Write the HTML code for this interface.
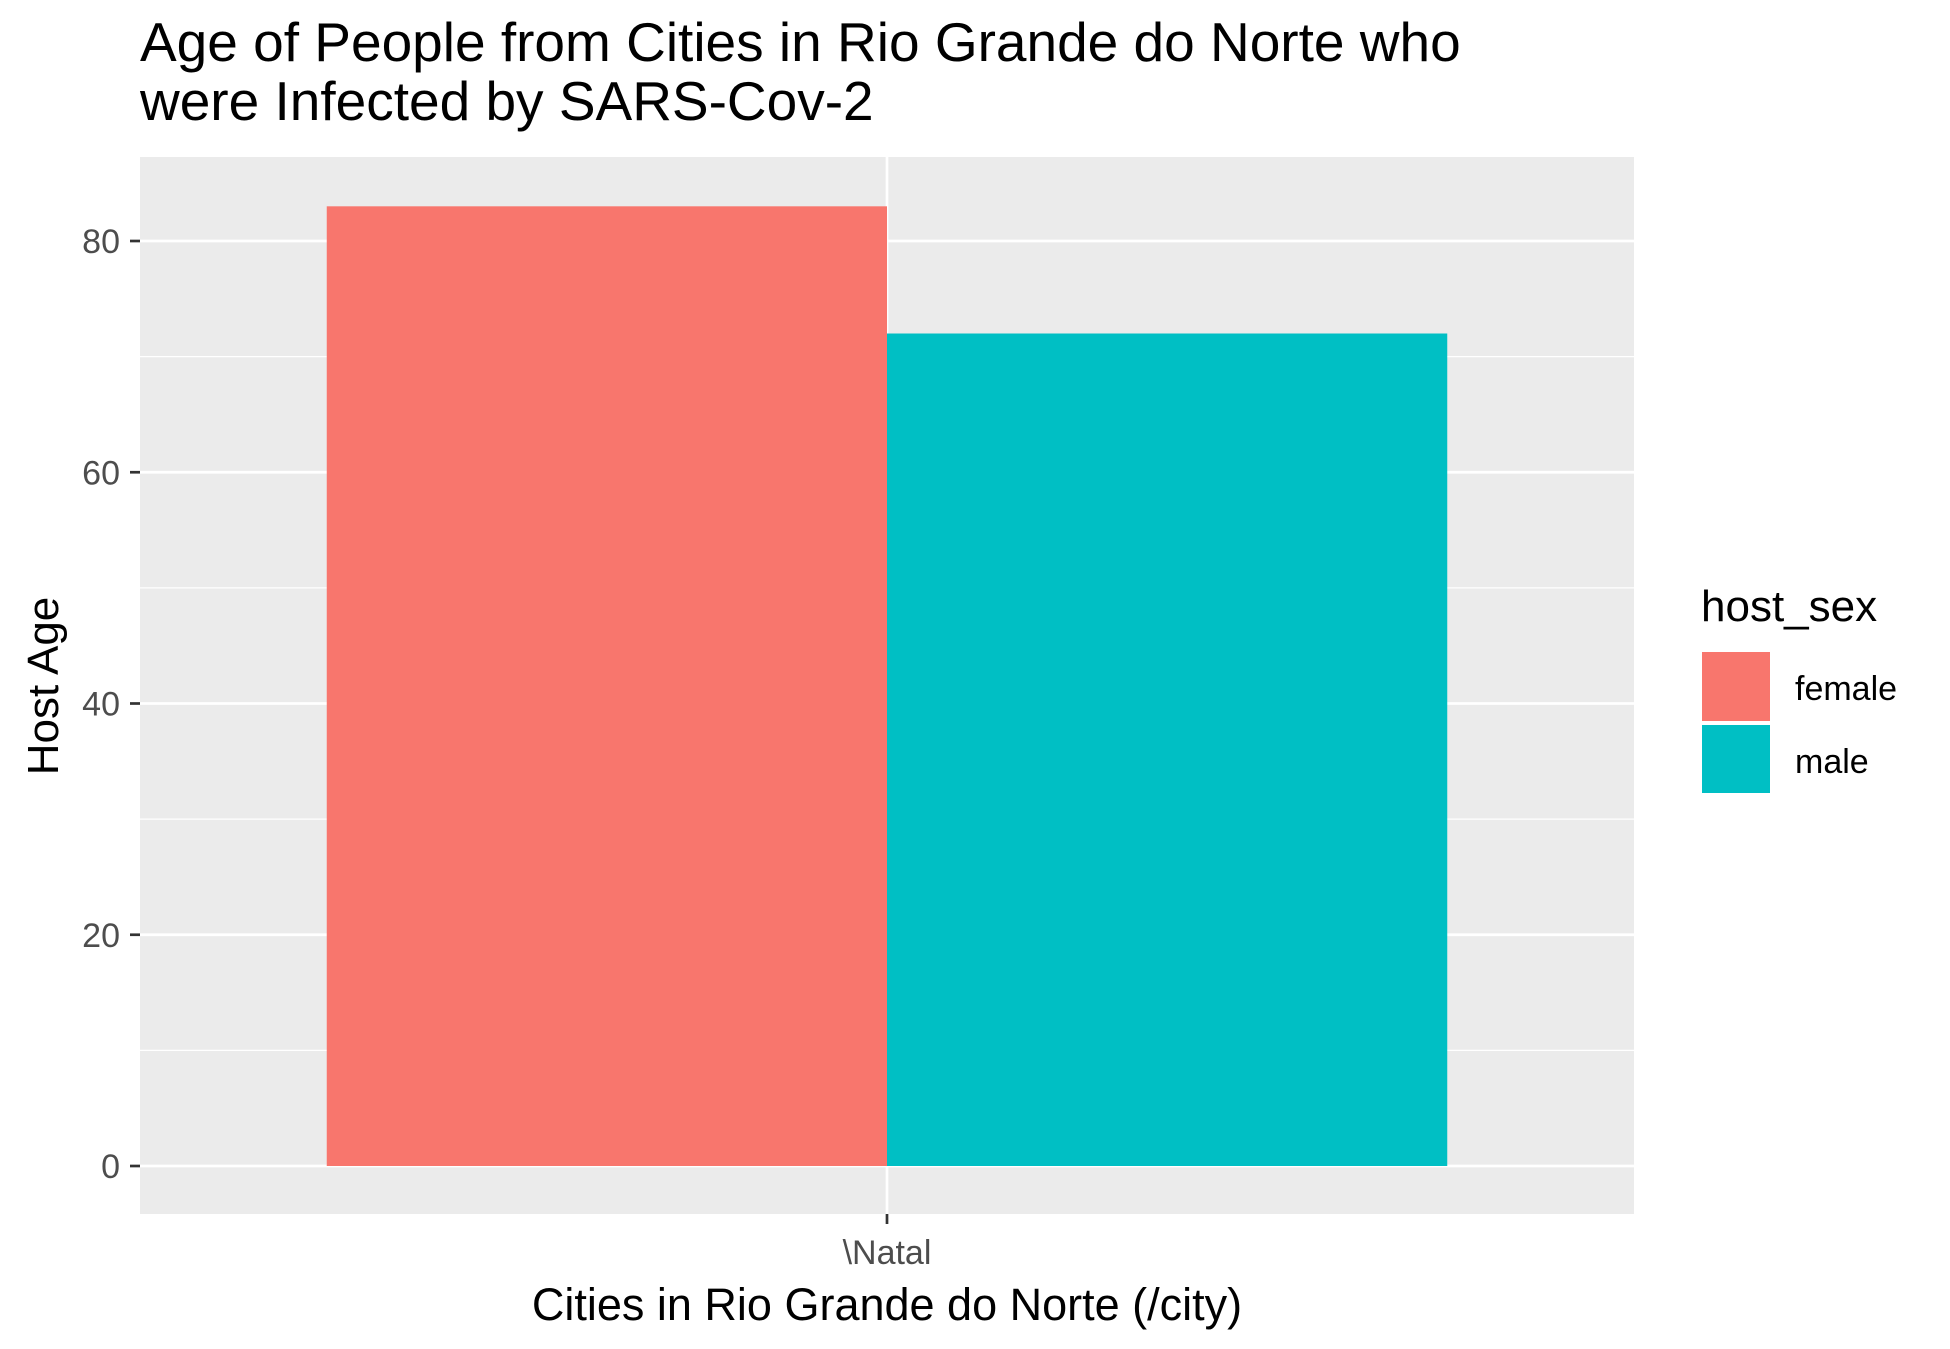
<!DOCTYPE html>
<html><head><meta charset="utf-8"><style>body{margin:0;background:#fff}svg{display:block;font-family:"Liberation Sans",sans-serif}</style></head>
<body>
<svg id="chart" width="1950" height="1349" xmlns="http://www.w3.org/2000/svg">
<text x="140" y="61" font-size="55" fill="#000">Age of People from Cities in Rio Grande do Norte who</text>
<text x="140" y="120" font-size="55" fill="#000">were Infected by SARS-Cov-2</text>
<rect x="140" y="157" width="1494" height="1057" fill="#ebebeb"/>
<g id="grid"></g><g id="bars"></g><g id="axes"></g>
<text transform="translate(58,686) rotate(-90)" text-anchor="middle" font-size="44" fill="#000">Host Age</text>
<text x="887" y="1320" text-anchor="middle" font-size="45" fill="#000">Cities in Rio Grande do Norte (/city)</text>
<g>
<text x="1701" y="621" font-size="44" fill="#000">host_sex</text>
<rect x="1702" y="652" width="68" height="69" fill="#F8766D"/>
<rect x="1702" y="725" width="68" height="68" fill="#00BFC4"/>
<text x="1795" y="700" font-size="34" fill="#000">female</text>
<text x="1795" y="773" font-size="34" fill="#000">male</text>
</g>
</svg>
<script>
const categories = ["\\Natal"];
const groups = ["female","male"];
const values = [83, 72];
const yTicks = [0,20,40,60,80];
const colors = ["#F8766D","#00BFC4"];
const NS="http://www.w3.org/2000/svg";
const x0=140,x1=1634,y0=157,y1=1214;
const y=v=>1166-v*(1166-241)/80;
function mk(t,a,p){const e=document.createElementNS(NS,t);for(const k in a)e.setAttribute(k,a[k]);p.appendChild(e);return e;}
const grid=document.getElementById('grid'),bars=document.getElementById('bars'),axes=document.getElementById('axes');
for(let i=0;i<yTicks.length-1;i++){const m=(yTicks[i]+yTicks[i+1])/2;
const l=mk('line',{x1:x0,x2:x1,y1:y(m),y2:y(m),stroke:'#fff','stroke-width':1.3},grid);

}
yTicks.forEach(t=>{const l=mk('line',{x1:x0,x2:x1,y1:y(t),y2:y(t),stroke:'#fff','stroke-width':2.7},grid);


const tk=mk('line',{x1:130,x2:140,y1:y(t),y2:y(t),stroke:'#333','stroke-width':2.7},axes);


const tx=mk('text',{x:120,y:y(t)+12,'text-anchor':'end','font-size':34,fill:'#4d4d4d'},axes);tx.textContent=t;

});
categories.forEach((c,ci)=>{const cx=(x0+x1)/2;
const g=mk('line',{x1:cx,x2:cx,y1:y0,y2:y1,stroke:'#fff','stroke-width':2.7},grid);


const w=(x1-x0)*0.75/groups.length;
groups.forEach((gname,gi)=>{const bx=cx-w*groups.length/2+gi*w;
const r=mk('rect',{x:bx,y:y(values[gi]),width:w,height:y(0)-y(values[gi]),fill:colors[gi]},bars);

});
const tk=mk('line',{x1:cx,x2:cx,y1:y1,y2:y1+10,stroke:'#333','stroke-width':2.7},axes);


const tx=mk('text',{x:cx,y:1264,'text-anchor':'middle','font-size':34,fill:'#4d4d4d'},axes);tx.textContent=c;

});
</script>
</body></html>
